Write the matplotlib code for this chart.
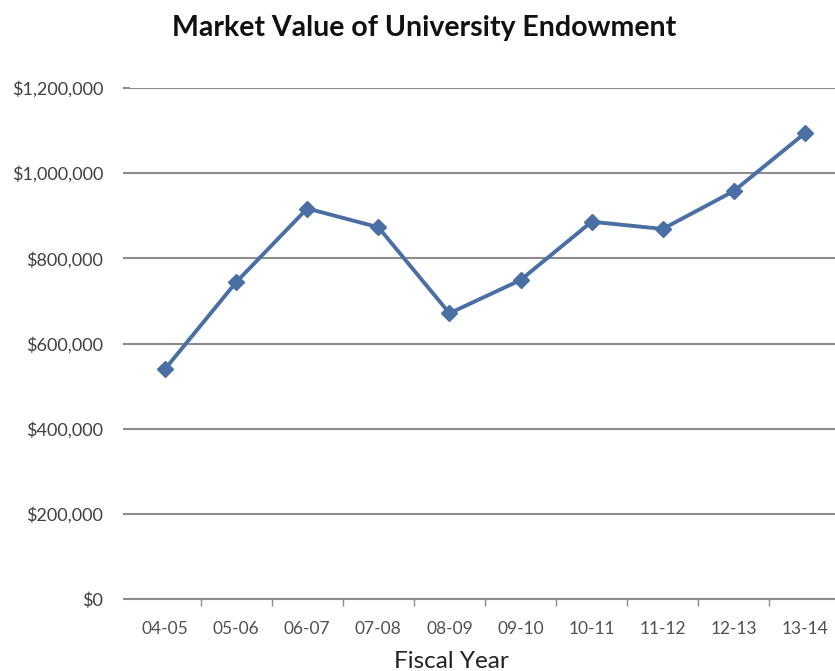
import matplotlib
matplotlib.use("Agg")
import matplotlib.pyplot as plt
from matplotlib.ticker import FuncFormatter, FixedLocator

years = ["04-05", "05-06", "06-07", "07-08", "08-09", "09-10", "10-11", "11-12", "12-13", "13-14"]
values = [540000, 744000, 917000, 873000, 671000, 749000, 886000, 869000, 958000, 1094000]
yticks = [0, 200000, 400000, 600000, 800000, 1000000, 1200000]

W, H = 835, 671
fig = plt.figure(figsize=(W / 100, H / 100), dpi=100)
left, right = 129.5, 840.5
top, bottom = 88, 599
ax = fig.add_axes([left / W, (H - bottom) / H, (right - left) / W, (bottom - top) / H])

x = list(range(len(years)))
ax.plot(x, values, color="#4A6FA5", lw=2.8, marker="D", markersize=8,
        markerfacecolor="#4A6FA5", markeredgecolor="#4A6FA5", zorder=3, clip_on=False)

ax.set_xlim(-0.5, len(years) - 0.5)
ax.set_ylim(0, 1200000)
ax.set_yticks(yticks)
ax.yaxis.set_major_formatter(FuncFormatter(lambda v, p: "${:,.0f}".format(v)))
ax.grid(axis="y", color="#8C8C8C", lw=1.5)
ax.set_axisbelow(True)

ax.set_xticks(x)
ax.set_xticklabels(years)
ax.xaxis.set_minor_locator(FixedLocator([i + 0.5 for i in range(len(years) - 1)]))
ax.tick_params(axis="x", which="major", length=0, pad=16, labelsize=12.5, labelcolor="#505050")
ax.tick_params(axis="x", which="minor", length=5, width=1, color="#8C8C8C", direction="out")
ax.tick_params(axis="y", length=5, width=1.5, color="#8C8C8C", pad=14, labelsize=13, labelcolor="#404040")
for lab in ax.get_xticklabels() + ax.get_yticklabels():
    lab.set_family("Lato")

for s in ["left", "right", "top"]:
    ax.spines[s].set_visible(False)
ax.spines["bottom"].set_color("#8C8C8C")
ax.spines["bottom"].set_linewidth(1.5)

fig.text(424 / W, 1 - 28 / H, "Market Value of University Endowment", ha="center", va="center",
         fontsize=20.5, fontweight="bold", family="Lato", color="#111111")
fig.text(451 / W, 1 - 661 / H, "Fiscal Year", ha="center", va="center",
         fontsize=17.5, family="Lato", color="#222222")

fig.savefig("out.png", dpi=100)
